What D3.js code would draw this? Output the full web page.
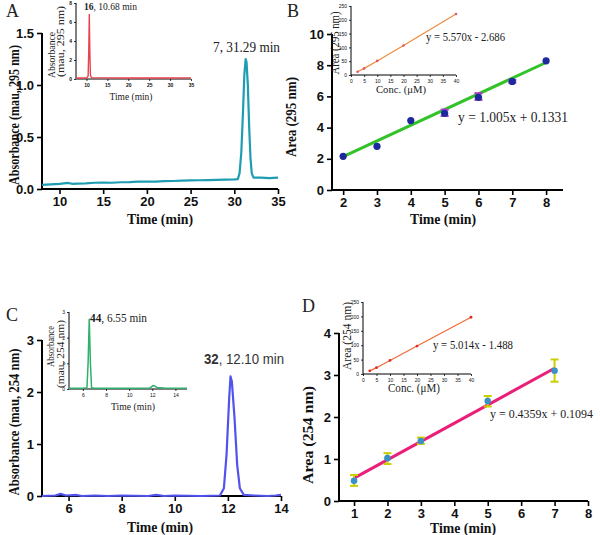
<!DOCTYPE html>
<html><head><meta charset="utf-8">
<script src="https://cdn.jsdelivr.net/npm/d3@7/dist/d3.min.js"></script>
<style>body{margin:0;background:#fff}svg{display:block}</style>
</head><body>
<svg id="c" width="600" height="535"></svg>
<script>
// ---------- DATA ----------
// Panel A: chromatogram of 7 (295 nm)
const aTime = [8,9,10,11,11.5,12,13,14,15,16,17,18,19,20,21,22,23,24,25,26,27,28,29,30,30.4,30.6,30.8,31.0,31.15,31.3,31.4,31.55,31.7,31.85,32.0,32.2,33,34,35];
const aAbs  = [0.04,0.045,0.05,0.058,0.05,0.052,0.055,0.06,0.062,0.06,0.065,0.066,0.07,0.072,0.07,0.075,0.077,0.08,0.082,0.084,0.086,0.088,0.09,0.092,0.095,0.15,0.35,0.75,1.1,1.25,1.22,1.0,0.6,0.3,0.15,0.11,0.11,0.105,0.11];
// Inset A: chromatogram of 16
const aiTime = [7.5,10,10.4,10.55,10.68,10.8,10.95,11.2,15,20,25,30,35];
const aiAbs  = [0.1,0.1,0.3,3.0,6.8,3.0,0.4,0.15,0.12,0.1,0.1,0.1,0.12];
// Panel B: calibration (295 nm)
const bX   = [2,3,4,5,6,7,8];
const bY   = [2.16,2.8,4.45,4.92,5.94,6.96,8.28];
const bLo  = [2.16,2.8,4.45,4.75,5.78,6.88,8.28];
const bHi  = [2.16,2.8,4.45,5.15,6.2,7.05,8.28];
const bFit = [1.005, 0.1331];
const biConc = [2.5,5,10,20,40];
const biArea = [12,24,51,107,221];
// Panel C: chromatogram of 32 (254 nm)
const cTime = [5,5.5,5.7,5.9,6.3,6.5,7,7.5,8,9,9.3,9.6,10,11,11.7,11.85,11.95,12.05,12.1,12.15,12.25,12.35,12.45,12.6,13,13.5,13.8,14];
const cAbs  = [0,0.01,0.04,0.01,0.02,0,0.01,0,0.01,0,0.02,0,0.01,0,0.01,0.15,0.8,1.9,2.3,2.2,1.5,0.6,0.15,0.02,0.01,0,0.01,0.02];
// Inset C: chromatogram of 44
const ciTime = [4.8,6,6.35,6.45,6.55,6.65,6.75,7,10,11.8,12.1,12.4,13,15];
const ciAbs  = [0.03,0.03,0.05,1.0,2.72,1.0,0.05,0.03,0.03,0.04,0.14,0.06,0.04,0.03];
// Panel D: calibration (254 nm)
const dX   = [1,2,3,5,7];
const dY   = [0.48,1.02,1.43,2.38,3.1];
const dLo  = [0.36,0.88,1.36,2.25,2.84];
const dHi  = [0.62,1.14,1.51,2.5,3.37];
const dFit = [0.4359, 0.1094];
const diConc = [2.5,5,10,20,40];
const diArea = [11,22,47,97,197];
// ticks
const aXT=[10,15,20,25,30,35], aYT=[0,0.5,1.0,1.5];
const aiXT=[10,15,20,25,30,35], aiYT=[0,2,4,6,8];
const bXT=[2,3,4,5,6,7,8], bYT=[0,2,4,6,8,10];
const biXT=[0,5,10,15,20,25,30,35,40], biYT=[0,50,100,150,200,250];
const cXT=[6,8,10,12,14], cYT=[0,1,2,3];
const ciXT=[6,8,10,12,14], ciYT=[0,1,2,3];
const dXT=[1,2,3,4,5,6,7,8], dYT=[0,1,2,3,4];
const diXT=[0,5,10,15,20,25,30,35,40], diYT=[0,50,100,150,200,250];

// ---------- DRAW ----------
const svg = d3.select("#c");
const SERIF = "'Liberation Serif','Times New Roman',serif";
const SANS = "'Liberation Sans',Arial,sans-serif";

function axes(o){
  const x = d3.scaleLinear().domain(o.xd).range([o.x0,o.x1]);
  const y = d3.scaleLinear().domain(o.yd).range([o.y0,o.y1]);
  const gx = svg.append("g").attr("transform",`translate(0,${o.y0})`)
    .call(d3.axisBottom(x).tickValues(o.xt).tickSize(o.ts).tickPadding(o.tp).tickFormat(o.xf||d3.format("d")));
  const gy = svg.append("g").attr("transform",`translate(${o.x0},0)`)
    .call(d3.axisLeft(y).tickValues(o.yt).tickSize(o.ts).tickPadding(o.tp).tickFormat(o.yf||d3.format("d")));
  [gx,gy].forEach(g=>{
    g.select(".domain").attr("stroke","#000").attr("stroke-width",o.aw);
    g.selectAll(".tick line").attr("stroke","#000").attr("stroke-width",o.aw*0.8);
    g.selectAll("text").attr("font-family",SANS).attr("font-weight",o.bold?"bold":"normal")
      .attr("font-size",o.fs).attr("fill","#111");
  });
  gx.select(".domain").attr("d",`M${o.x0},0H${o.x1}`);
  gy.select(".domain").attr("d",`M0,${o.y0}V${o.y1}`);
  return {x,y};
}
function text(t,x,y,o={}){
  const el = svg.append("text").attr("x",x).attr("y",y)
    .attr("font-family",o.ff||SERIF).attr("font-size",o.fs||14)
    .attr("font-weight",o.fw||"normal").attr("fill",o.fill||"#222")
    .attr("text-anchor",o.anchor||"start");
  if(o.rot) el.attr("transform",`rotate(-90,${x},${y})`);
  if(o.parts){ o.parts.forEach(p=>el.append("tspan").attr("font-weight",p[1]).text(p[0])); }
  else el.text(t);
  if(o.len) el.attr("textLength",o.len).attr("lengthAdjust","spacingAndGlyphs");
  return el;
}
function trace(s,xs,ys,color,w){
  svg.append("path").datum(xs.map((v,i)=>[v,ys[i]]))
    .attr("fill","none").attr("stroke",color).attr("stroke-width",w).attr("stroke-linejoin","round")
    .attr("d",d3.line().x(d=>s.x(d[0])).y(d=>s.y(d[1])));
}

// ===== Panel A =====
const sA = axes({xd:[8,35],yd:[0,1.5],x0:42,x1:278,y0:189,y1:33,xt:aXT,yt:aYT,ts:5,tp:3,fs:13,bold:true,aw:2,yf:d3.format(".1f")});
trace(sA,aTime,aAbs,"#1e9db2",2.2);
text("7, 31.29 min",213,52,{fs:15,len:67});
text("Time (min)",160,224,{fs:15,fw:"bold",anchor:"middle",fill:"#111",len:66});
text("Absorbance (mau, 295 nm)",19,115,{fs:14,fw:"bold",anchor:"middle",rot:true,fill:"#111",len:140});
text("A",6,17,{fs:18});
// inset A
const sAi = axes({xd:[7.5,35],yd:[0,8],x0:76,x1:191,y0:79,y1:3,xt:aiXT,yt:aiYT,ts:2,tp:2,fs:5,bold:true,aw:1});
trace(sAi,aiTime,aiAbs,"#e8424e",1.4);
text("",84,10,{fs:10,parts:[["16","bold"],[", 10.68 min","normal"]],len:53});
text("Time (min)",131,100,{fs:11,anchor:"middle",len:43});
text("Absorbance",55,78,{fs:10.5,anchor:"start",rot:true,len:46});
text("(mau, 295 nm)",64,77,{fs:10.5,anchor:"start",rot:true,len:71});

// ===== Panel B =====
const sB = axes({xd:[1.67,8.5],yd:[0,10],x0:332,x1:563,y0:190,y1:34,xt:bXT,yt:bYT,ts:5,tp:3,fs:13,bold:true,aw:2});
svg.append("line").attr("x1",sB.x(2)).attr("x2",sB.x(8))
  .attr("y1",sB.y(bFit[0]*2+bFit[1])).attr("y2",sB.y(bFit[0]*8+bFit[1]))
  .attr("stroke","#33c22a").attr("stroke-width",3);
bX.forEach((v,i)=>{
  if(bHi[i]-bLo[i]>0.01){
    const g=svg.append("g").attr("stroke","#b23cc8").attr("stroke-width",2.2);
    g.append("line").attr("x1",sB.x(v)).attr("x2",sB.x(v)).attr("y1",sB.y(bLo[i])).attr("y2",sB.y(bHi[i]));
    [bLo[i],bHi[i]].forEach(e=>g.append("line").attr("x1",sB.x(v)-4).attr("x2",sB.x(v)+4).attr("y1",sB.y(e)).attr("y2",sB.y(e)));
  }
  svg.append("circle").attr("cx",sB.x(v)).attr("cy",sB.y(bY[i])).attr("r",3.6).attr("fill","#1c2a9c");
});
text("y = 1.005x + 0.1331",458,122,{fs:15,len:110});
text("Time (min)",443,224,{fs:15,fw:"bold",anchor:"middle",fill:"#111",len:66});
text("Area (295 nm)",296,117,{fs:14,fw:"bold",anchor:"middle",rot:true,fill:"#111",len:80});
text("B",287,17,{fs:18});
// inset B
const sBi = axes({xd:[0,40],yd:[0,250],x0:351,x1:456,y0:75,y1:6,xt:biXT,yt:biYT,ts:2,tp:2,fs:5,bold:false,aw:1});
trace(sBi,biConc,biArea,"#f08a3c",1.2);
biConc.forEach((v,i)=>svg.append("circle").attr("cx",sBi.x(v)).attr("cy",sBi.y(biArea[i])).attr("r",1.3).attr("fill","#e0566a"));
text("y = 5.570x - 2.686",426,41,{fs:12,len:79});
text("Conc. (μM)",401,93,{fs:11,anchor:"middle",len:50});
text("Area (295 nm)",339,43,{fs:11.5,anchor:"middle",rot:true,len:63});

// ===== Panel C =====
const sC = axes({xd:[5,14],yd:[0,3],x0:42,x1:281,y0:496,y1:340,xt:cXT,yt:cYT,ts:5,tp:3,fs:13,bold:true,aw:2});
trace(sC,cTime,cAbs,"#5252ee",2.2);
text("",204,364,{fs:14,ff:SANS,fill:"#333",parts:[["32","bold"],[", 12.10 min","normal"]],len:80});
text("Time (min)",160,532,{fs:14.5,fw:"bold",anchor:"middle",fill:"#111",len:66});
text("Absorbance (mau, 254 nm)",19,422,{fs:14,fw:"bold",anchor:"middle",rot:true,fill:"#111",len:147});
text("C",6,321,{fs:18});
// inset C
const sCi = axes({xd:[4.8,15],yd:[0,3],x0:69,x1:187,y0:389,y1:312,xt:ciXT,yt:ciYT,ts:2,tp:2,fs:5,bold:false,aw:1});
trace(sCi,ciTime,ciAbs,"#2fb06c",1.5);
text("",90,322,{fs:11.5,parts:[["44","bold"],[", 6.55 min","normal"]],len:57});
text("Time (min)",133,410,{fs:11,anchor:"middle",len:44});
text("Absorbance",54,367,{fs:10.5,anchor:"start",rot:true,len:41});
text("(mau, 254 nm)",64,388,{fs:10.5,anchor:"start",rot:true,len:68});

// ===== Panel D =====
const sD = axes({xd:[0.55,8],yd:[0,4],x0:339,x1:588,y0:501,y1:333,xt:dXT,yt:dYT,ts:5,tp:3,fs:13,bold:true,aw:2});
svg.append("line").attr("x1",sD.x(1)).attr("x2",sD.x(7))
  .attr("y1",sD.y(dFit[0]*1+dFit[1])).attr("y2",sD.y(dFit[0]*7+dFit[1]))
  .attr("stroke","#ea1f78").attr("stroke-width",3);
dX.forEach((v,i)=>{
  const g=svg.append("g").attr("stroke","#c8d000").attr("stroke-width",2);
  g.append("line").attr("x1",sD.x(v)).attr("x2",sD.x(v)).attr("y1",sD.y(dLo[i])).attr("y2",sD.y(dHi[i]));
  [dLo[i],dHi[i]].forEach(e=>g.append("line").attr("x1",sD.x(v)-4).attr("x2",sD.x(v)+4).attr("y1",sD.y(e)).attr("y2",sD.y(e)));
  svg.append("circle").attr("cx",sD.x(v)).attr("cy",sD.y(dY[i])).attr("r",3.3).attr("fill","#3a92c4");
});
text("y = 0.4359x + 0.1094",490,418,{fs:12.5,len:103});
text("Time (min)",463,533,{fs:14.5,fw:"bold",anchor:"middle",fill:"#111",len:66});
text("Area (254 nm)",313,435,{fs:14,fw:"bold",anchor:"middle",rot:true,fill:"#111",len:98});
text("D",302,312,{fs:18});
// inset D
const sDi = axes({xd:[0,40],yd:[0,250],x0:363,x1:471,y0:374,y1:302,xt:diXT,yt:diYT,ts:2,tp:2,fs:5,bold:false,aw:1});
trace(sDi,diConc,diArea,"#f06a34",1.2);
diConc.forEach((v,i)=>svg.append("circle").attr("cx",sDi.x(v)).attr("cy",sDi.y(diArea[i])).attr("r",1.4).attr("fill","#e02828"));
text("y = 5.014x - 1.488",433,349,{fs:12,len:80});
text("Conc. (μM)",414,392,{fs:12,anchor:"middle",len:52});
text("Area (254 nm)",351,336,{fs:11.5,anchor:"middle",rot:true,len:68});
</script>
</body></html>
